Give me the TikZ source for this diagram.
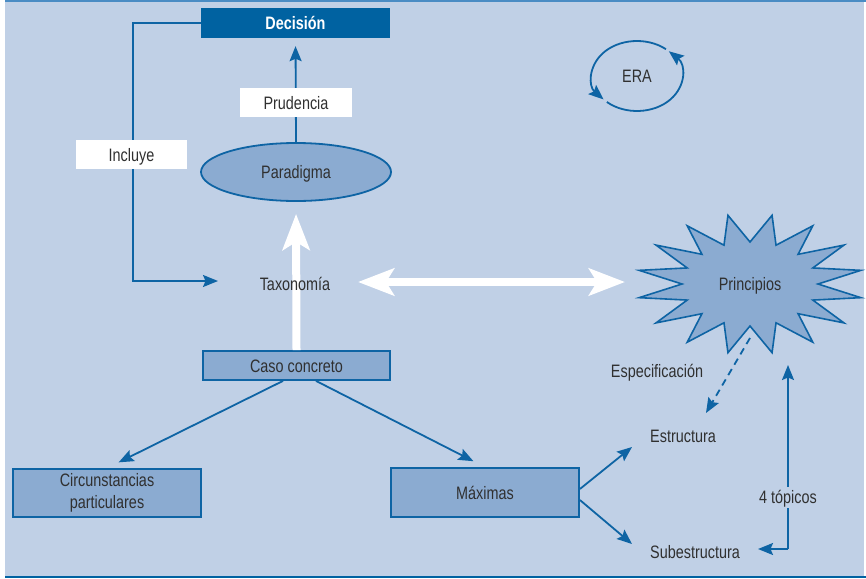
\documentclass[tikz,border=0pt]{standalone}
\usepackage{fontspec}
\setmainfont{Liberation Sans}[FakeStretch=0.8]
\usetikzlibrary{arrows.meta,shapes.geometric}

\definecolor{panel}{RGB}{192,208,230}
\definecolor{boxfill}{RGB}{139,171,209}
\definecolor{linkblue}{RGB}{14,100,164}
\definecolor{headblue}{RGB}{0,98,161}
\definecolor{topband}{RGB}{74,140,196}
\definecolor{inktext}{RGB}{48,48,48}

\tikzset{
  every node/.style={text=inktext, font=\fontsize{18pt}{22pt}\selectfont,
    text height=13pt, text depth=0pt},
  bluebox/.style={draw=linkblue, line width=1.8pt, fill=boxfill, rectangle, inner sep=0pt},
  whitebox/.style={fill=white, rectangle, inner sep=0pt},
  plainlabel/.style={inner sep=2pt},
  link/.style={draw=linkblue, line width=1.8pt,
    -{Stealth[length=15pt,width=12pt,inset=2.5pt]}},
  dashlink/.style={link, dashed, dash pattern=on 7pt off 5pt},
  bigwhite/.style={draw=white, line width=8pt,
    -{Stealth[length=36pt,width=27pt,inset=8pt]}},
  bigwhitetwo/.style={draw=white, line width=8pt,
    {Stealth[length=36pt,width=27pt,inset=8pt]}-{Stealth[length=36pt,width=27pt,inset=8pt]}},
}

\begin{document}
\begin{tikzpicture}[x=1pt,y=1pt]
  % page, panel and its edge bands
  \useasboundingbox (0,0) rectangle (866,-578);
  \fill[white] (0,0) rectangle (866,-578);
  \fill[panel] (5,0) rectangle (864,-578);
  \fill[topband] (5,0) rectangle (866,-2.5);
  \fill[headblue] (5,-575.5) rectangle (866,-578);

  % main blocks
  \node[rectangle, fill=headblue, minimum width=189pt, minimum height=30pt,
        text=white, font=\fontsize{18pt}{22pt}\selectfont\bfseries] (dec) at (295.5,-23) {Decisión};
  \node[ellipse, draw=linkblue, line width=1.8pt, fill=boxfill,
        minimum width=190pt, minimum height=58pt, inner sep=0pt] (para) at (296,-172) {Paradigma};
  \node[bluebox, minimum width=187pt, minimum height=29pt] (caso) at (296.5,-365.5) {Caso concreto};
  \node[bluebox, minimum width=188pt, minimum height=48pt, align=center,
        text height=, text depth=] (circ) at (107,-493)
        {Circunstancias\\particulares};
  \node[bluebox, minimum width=188pt, minimum height=49pt] (maxi) at (485,-492.5) {Máximas};

  % Principios: sixteen-point burst
  \draw[draw=linkblue, line width=1.6pt, fill=boxfill]
    plot[samples at={0,...,31}, variable=\k]
      ({750+(mod(\k,2)==0 ? 68 : 113)*cos(11.25*\k)},
       {-284+(mod(\k,2)==0 ? 42 : 70)*sin(11.25*\k)}) -- cycle;
  \node[plainlabel] (princ) at (750,-284) {Principios};

  % named free ends
  \coordinate (inclcorner) at (133,-281);
  \coordinate (taxin) at (218,-281);
  \coordinate (taxright) at (358,-282);
  \coordinate (princleft) at (625,-282);
  \coordinate (estrin) at (632,-447);
  \coordinate (subin) at (632,-544);
  \coordinate (burstfoot) at (750,-338);
  \coordinate (estrtop) at (706,-413);
  \coordinate (topcorner) at (788,-549);
  \coordinate (toptip) at (788,-365);
  \coordinate (subright) at (758,-549);

  % white arrows
  \draw[bigwhite, shorten >=12pt] (caso.north) -- (para.south);
  \draw[bigwhitetwo] (taxright) -- (princleft);

  % blue connectors
  \draw[link, shorten >=8pt] (para.north) -- (dec.south);
  \draw[link] (dec.west) -| (inclcorner) -- (taxin);
  \draw[link, shorten >=13pt] ([xshift=-13.5pt]caso.south) -- (circ.north);
  \draw[link, shorten >=13pt] ([xshift=19.5pt]caso.south) -- (maxi.north);
  \draw[link] ([yshift=3.5pt]maxi.east) -- (estrin);
  \draw[link] ([yshift=-7.5pt]maxi.east) -- (subin);
  \draw[dashlink] (burstfoot) -- (estrtop);
  \draw[link] (topcorner) -- (toptip);
  \draw[link] (topcorner) -- (subright);

  % ERA cycle
  \node[plainlabel] (era) at (637,-76) {ERA};
  \draw[link] (era.center) ++(50:45pt and 35pt)
    arc[start angle=50, end angle=222, x radius=45pt, y radius=35pt];
  \draw[link] (era.center) ++(228:45pt and 35pt)
    arc[start angle=228, end angle=405, x radius=45pt, y radius=35pt];

  % labels drawn over the lines
  \node[whitebox, minimum width=112pt, minimum height=29pt] (prud) at (296,-102.5) {Prudencia};
  \node[whitebox, minimum width=111pt, minimum height=29pt] (incl) at (131.5,-154.5) {Incluye};
  \node[plainlabel] (tax) at (295,-284) {Taxonomía};
  \node[plainlabel] (esp) at (657,-371) {Especificación};
  \node[plainlabel] (estr) at (683,-436) {Estructura};
  \node[plainlabel] (sub) at (695,-552) {Subestructura};
  \node[plainlabel, fill=panel, inner sep=4pt] (topicos) at (788,-497) {4 tópicos};
\end{tikzpicture}
\end{document}
